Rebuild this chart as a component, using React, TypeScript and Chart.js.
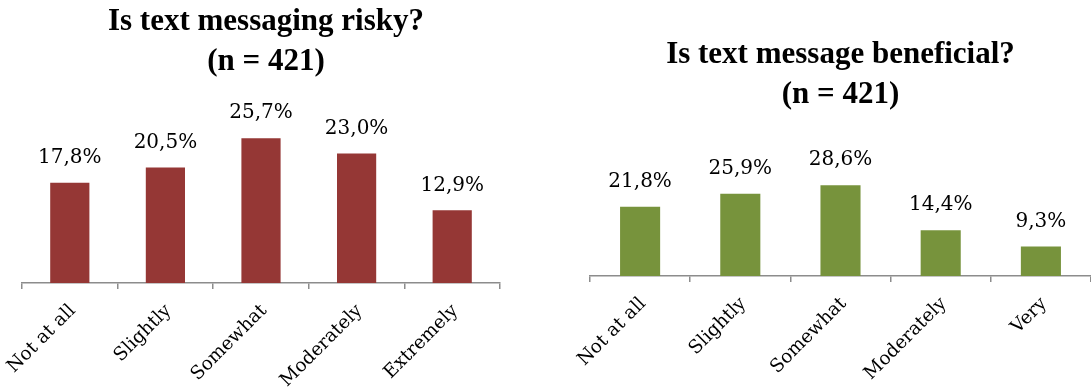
import React, { useEffect, useRef } from "react";
import { Chart, registerables } from "chart.js";

Chart.register(...registerables);

const riskCategories = ["Not at all", "Slightly", "Somewhat", "Moderately", "Extremely"];
const riskValues = [17.8, 20.5, 25.7, 23.0, 12.9];
const riskTitle = ["Is text messaging risky?", "(n = 421)"];

const benefitCategories = ["Not at all", "Slightly", "Somewhat", "Moderately", "Very"];
const benefitValues = [21.8, 25.9, 28.6, 14.4, 9.3];
const benefitTitle = ["Is text message beneficial?", "(n = 421)"];

const LABEL_FONT = "'DejaVu Serif', serif";
const TITLE_FONT = "'Liberation Serif', serif";

const valueLabels = {
  id: "valueLabels",
  afterDatasetsDraw(chart: any) {
    const ctx = chart.ctx;
    const meta = chart.getDatasetMeta(0);
    const data = chart.data.datasets[0].data as number[];
    ctx.save();
    ctx.font = `20px ${LABEL_FONT}`;
    ctx.fillStyle = "#000";
    ctx.textAlign = "center";
    ctx.textBaseline = "middle";
    meta.data.forEach((bar: any, i: number) => {
      const txt = data[i].toFixed(1).replace(".", ",") + "%";
      ctx.fillText(txt, bar.x, bar.y - 25);
    });
    ctx.restore();
  },
};

type PanelProps = {
  left: number;
  width: number;
  categories: string[];
  values: number[];
  title: string[];
  color: string;
  yMax: number;
  padLeft: number;
  padRight: number;
  yAxisWidth: number;
  titleSize: number;
  titlePadTop: number;
  titlePadBottom: number;
  xAxisHeight: number;
  barPct: number;
};

function BarPanel(p: PanelProps) {
  const ref = useRef<HTMLCanvasElement | null>(null);
  useEffect(() => {
    if (!ref.current) return;
    const chart = new Chart(ref.current, {
      type: "bar",
      data: {
        labels: p.categories,
        datasets: [
          {
            data: p.values,
            backgroundColor: p.color,
            borderWidth: 0,
            barPercentage: p.barPct,
            categoryPercentage: 1,
          },
        ],
      },
      options: {
        responsive: false,
        animation: false,
        devicePixelRatio: 1,
        layout: { padding: { left: p.padLeft, right: p.padRight, top: 0, bottom: 0 } },
        plugins: {
          legend: { display: false },
          tooltip: { enabled: false },
          title: {
            display: true,
            text: p.title,
            color: "#000",
            font: { family: TITLE_FONT, size: p.titleSize, weight: "bold", lineHeight: 40 / p.titleSize },
            padding: { top: p.titlePadTop, bottom: p.titlePadBottom },
          },
        },
        scales: {
          y: {
            display: p.yAxisWidth > 0,
            position: "right",
            min: 0,
            max: p.yMax,
            grid: { display: false },
            border: { display: false },
            ticks: { display: false },
            afterFit: (scale: any) => {
              scale.width = p.yAxisWidth;
              scale.paddingTop = 0;
              scale.paddingBottom = 0;
            },
          },
          x: {
            afterFit: (scale: any) => {
              scale.height = p.xAxisHeight;
              scale.paddingLeft = 0;
              scale.paddingRight = 0;
            },
            border: { display: true, color: "#8c8c8c", width: 1.5 },
            grid: {
              display: true,
              offset: true,
              drawOnChartArea: false,
              drawTicks: true,
              tickLength: 6,
              color: "#8c8c8c",
              lineWidth: 1.5,
            },
            ticks: {
              color: "#000",
              minRotation: 45,
              maxRotation: 45,
              padding: 11,
              labelOffset: 3,
              font: { family: LABEL_FONT, size: 18.5 },
            },
          },
        },
      },
      plugins: [valueLabels],
    });
    return () => chart.destroy();
  }, []);
  return (
    <canvas
      ref={ref}
      width={p.width}
      height={387}
      style={{ position: "absolute", left: p.left, top: 0, width: p.width, height: 387 }}
    />
  );
}

export default function App() {
  return (
    <div style={{ position: "fixed", left: 0, top: 0, width: 1091, height: 387, background: "#fff" }}>
      <BarPanel
        left={0}
        width={520}
        categories={riskCategories}
        values={riskValues}
        title={riskTitle}
        color="#953735"
        yMax={30}
        padLeft={22}
        padRight={10}
        yAxisWidth={10}
        titleSize={31}
        titlePadTop={1.5}
        titlePadBottom={32.5}
        xAxisHeight={104}
        barPct={0.41}
      />
      <BarPanel
        left={560}
        width={531}
        categories={benefitCategories}
        values={benefitValues}
        title={benefitTitle}
        color="#77933C"
        yMax={40}
        padLeft={30}
        padRight={0}
        yAxisWidth={0}
        titleSize={31}
        titlePadTop={34.5}
        titlePadBottom={34.5}
        xAxisHeight={111}
        barPct={0.4}
      />
    </div>
  );
}
